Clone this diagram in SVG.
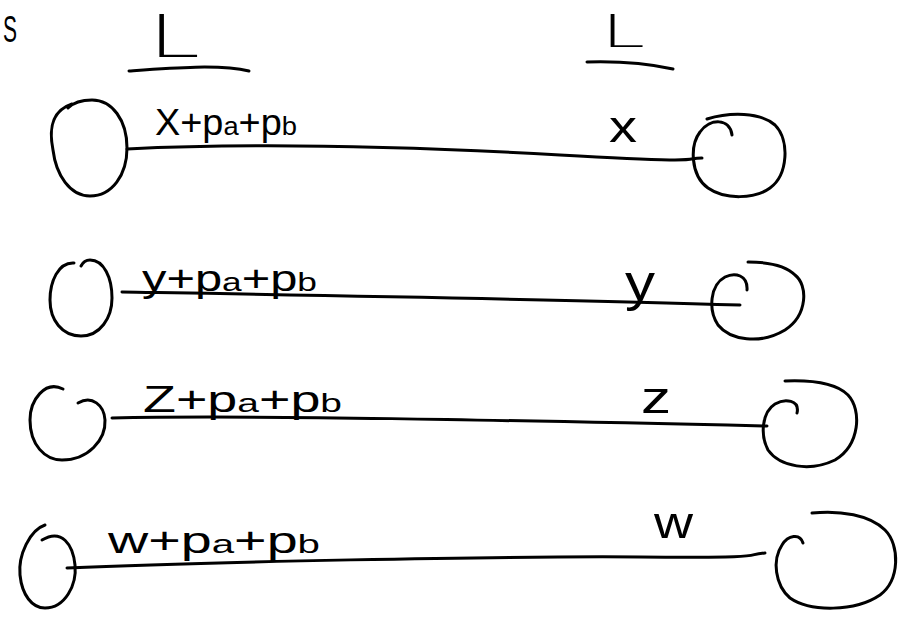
<svg xmlns="http://www.w3.org/2000/svg" width="906" height="624" viewBox="0 0 906 624">
<style>
.ink{fill:none;stroke:#000;stroke-width:3;stroke-linecap:round;stroke-linejoin:round}
text{font-family:"Liberation Sans","DejaVu Sans",sans-serif;fill:#000}
.thin{font-family:"DejaVu Sans","Liberation Sans",sans-serif;font-weight:200}
.lab{font-size:36px}
.s{font-size:26px}
.big{font-size:44px}
</style>
<rect width="906" height="624" fill="#fff"/>
<g id="header">
<text x="3" y="42" font-size="36" textLength="14" lengthAdjust="spacingAndGlyphs">S</text>
<text class="thin" x="148" y="57" font-size="58" textLength="52" lengthAdjust="spacingAndGlyphs">L</text>
<path class="ink" d="M129 71 C170 68 220 64 249 71"/>
<text class="thin" x="601" y="47" font-size="45" textLength="44" lengthAdjust="spacingAndGlyphs">L</text>
<path class="ink" d="M587 62 C620 61 650 64 673 69"/>
</g>
<g id="connectors">
<path class="ink" d="M127 149 C250 143 400 146 560 155 S680 158 702 158"/>
<path class="ink" d="M122 292 C300 295 550 299 740 305"/>
<path class="ink" d="M112 418 C250 415 500 420 767 426"/>
<path class="ink" d="M67 568 C200 562 500 556 640 557 S740 555 765 553"/>
</g>
<g id="x-left"><path class="ink" d="M72 104 C48 112 50 135 53 150 C56 175 70 196 90 196 C112 196 127 175 127 148 C127 120 112 100 92 100 C82 100 74 102 68 108"/></g>
<g id="x-right"><path class="ink" d="M707 119 C730 112 760 112 775 125 C790 140 788 175 770 188 C755 199 725 200 708 188 C690 175 690 145 700 132 C710 118 730 118 732 135"/></g>
<g id="y-left"><path class="ink" d="M74 263 C58 262 50 282 50 300 C50 320 62 336 81 336 C100 336 112 318 112 298 C112 278 104 260 90 260 C86 260 83 262 81 266"/></g>
<g id="y-right"><path class="ink" d="M747 290 C748 275 735 272 725 277 C710 285 708 310 718 325 C730 340 760 345 785 330 C808 315 808 285 795 275 C785 265 765 262 748 262"/></g>
<g id="z-left"><path class="ink" d="M63 389 C45 380 30 400 30 420 C30 445 45 460 62 460 C88 460 106 440 105 420 C104 405 92 395 78 403"/></g>
<g id="z-right"><path class="ink" d="M797 413 C800 400 785 398 775 404 C762 412 760 435 768 450 C780 467 810 472 835 460 C860 445 862 410 848 395 C835 382 810 380 785 381"/></g>
<g id="w-left"><path class="ink" d="M45 525 C30 530 18 555 20 575 C22 595 32 608 45 608 C65 608 77 585 75 565 C73 545 62 528 42 540"/></g>
<g id="w-right"><path class="ink" d="M803 543 C800 533 788 535 782 545 C772 560 775 585 790 598 C810 612 855 612 880 595 C900 580 900 545 885 530 C870 515 840 510 812 513"/></g>
<g id="labels">
<text class="lab" x="155" y="135" textLength="142" lengthAdjust="spacingAndGlyphs">X+p<tspan class="s">a</tspan>+p<tspan class="s">b</tspan></text>
<text class="big" x="609" y="142" textLength="28" lengthAdjust="spacingAndGlyphs">x</text>
<text class="lab" x="142" y="291" textLength="175" lengthAdjust="spacingAndGlyphs">y+p<tspan class="s">a</tspan>+p<tspan class="s">b</tspan></text>
<text x="625" y="300" font-size="52" textLength="30" lengthAdjust="spacingAndGlyphs">y</text>
<text class="lab" x="143" y="412" font-size="40" textLength="199" lengthAdjust="spacingAndGlyphs">Z+p<tspan class="s">a</tspan>+p<tspan class="s">b</tspan></text>
<text class="big" x="641" y="413" font-size="48" textLength="30" lengthAdjust="spacingAndGlyphs">z</text>
<text class="lab" x="108" y="553" textLength="212" lengthAdjust="spacingAndGlyphs">w+p<tspan class="s">a</tspan>+p<tspan class="s">b</tspan></text>
<text class="big" x="654" y="538" textLength="39" lengthAdjust="spacingAndGlyphs">w</text>
</g>
</svg>
